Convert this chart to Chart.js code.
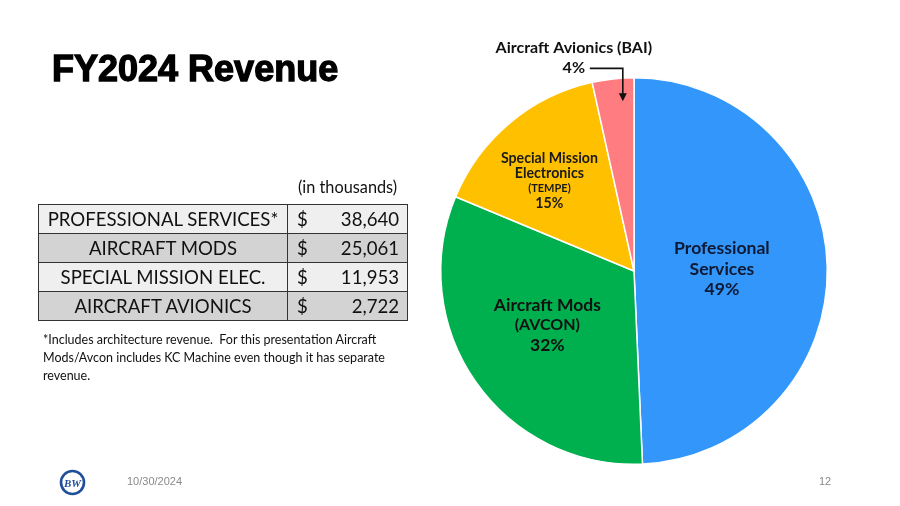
<!DOCTYPE html>
<html>
<head>
<meta charset="utf-8">
<script src="https://cdn.jsdelivr.net/npm/chart.js@4.4.0/dist/chart.umd.min.js"></script>
<style>
  html,body{margin:0;padding:0;background:#fff;}
  #wrap{position:relative;width:900px;height:506px;overflow:hidden;font-family:"Lato","Liberation Sans",sans-serif;}
  #c{position:absolute;left:0;top:0;}
  .abs{position:absolute;}
  #title{left:52px;top:48px;font-family:"Liberation Sans",Arial,sans-serif;font-weight:bold;font-size:36px;color:#000;-webkit-text-stroke:1.3px #000;letter-spacing:0px;white-space:nowrap;}
  #unit{left:298px;top:177px;font-size:16.3px;color:#111;font-family:"Lato",sans-serif;}
  #tbl{left:38px;top:204px;border-collapse:collapse;font-family:"Lato",sans-serif;font-size:18.6px;color:#111;}
  #tbl td{border:1px solid #333;height:28px;padding:0;line-height:28px;}
  #tbl td.lab{width:248px;text-align:center;}
  #tbl td.amt{width:119px;}
  #tbl td.amt span.d{float:left;margin-left:9px;}
  #tbl td.amt span.v{float:right;margin-right:8px;}
  #tbl tr.l td{background:#efefef;}
  #tbl tr.d td{background:#d3d3d3;}
  #note{left:43px;top:331px;width:350px;font-family:"Lato",sans-serif;font-size:12.5px;line-height:18px;color:#111;}
  #date{left:127px;top:475px;font-family:"Liberation Sans Narrow","Liberation Sans",sans-serif;font-size:11px;color:#8a8a8a;}
  #page{left:819px;top:475px;font-family:"Liberation Sans Narrow","Liberation Sans",sans-serif;font-size:11px;color:#8a8a8a;}
  #logo{left:59px;top:469px;}
</style>
</head>
<body>
<div id="wrap">
  <canvas id="c" width="900" height="506"></canvas>
  <div id="title" class="abs">FY2024 Revenue</div>
  <div id="unit" class="abs">(in thousands)</div>
  <table id="tbl" class="abs"></table>
  <div id="note" class="abs">*Includes architecture revenue.&nbsp; For this presentation Aircraft Mods/Avcon includes KC Machine even though it has separate revenue.</div>
  <svg id="logo" class="abs" width="27" height="27" viewBox="0 0 27 27">
    <circle cx="13.5" cy="13.5" r="11.5" fill="none" stroke="#1f4e9a" stroke-width="2.6"/>
    <text x="13.5" y="17.5" text-anchor="middle" font-family="Liberation Serif, serif" font-weight="bold" font-style="italic" font-size="11" fill="#1f4e9a">BW</text>
  </svg>
  <div id="date" class="abs">10/30/2024</div>
  <div id="page" class="abs">12</div>
</div>
<script>
// ---- data ----
const tableLabels = ["PROFESSIONAL SERVICES*", "AIRCRAFT MODS", "SPECIAL MISSION ELEC.", "AIRCRAFT AVIONICS"];
const tableAmounts = ["38,640", "25,061", "11,953", "2,722"];
const sliceNames = [["Professional", "Services"], ["Aircraft Mods", "(AVCON)"], ["Special Mission", "Electronics", "(TEMPE)"], ["Aircraft Avionics (BAI)"]];
const sliceValues = [38640, 25061, 11953, 2722];
const slicePercents = ["49%", "32%", "15%", "4%"];
const sliceColors = ["#3396fb", "#00b04f", "#ffc000", "#ff7c80"];

// ---- table ----
const tbl = document.getElementById('tbl');
tableLabels.forEach((lab, i) => {
  const tr = document.createElement('tr');
  tr.className = i % 2 === 0 ? 'l' : 'd';
  tr.innerHTML = '<td class="lab">' + lab + '</td><td class="amt"><span class="d">$</span><span class="v">' + tableAmounts[i] + '</span></td>';
  tbl.appendChild(tr);
});

// ---- label plugin ----
const labelPlugin = {
  id: 'sliceLabels',
  afterDatasetsDraw(chart) {
    const ctx = chart.ctx;
    const arcs = chart.getDatasetMeta(0).data;
    const fam = '"Lato", "Open Sans", sans-serif';
    const cfg = [
      {frac: 0.455, rot: 0, lines: [[17.6, 'bold'], [17.6, 'bold'], [17.6, 'bold']], lh: 20.5, color: '#0e1a33'},
      {frac: 0.529, rot: 2.9, lines: [[17.5, 'bold'], [16, 'bold'], [17.5, 'bold']], lh: 20, color: '#111'},
      {frac: 0.64, rot: -3.2, lines: [[14.2, 'bold'], [14.2, 'bold'], [11, 'bold'], [14.2, 'bold']], lh: 15, color: '#1a1a1a'}
    ];
    ctx.save();
    ctx.textAlign = 'center';
    ctx.textBaseline = 'middle';
    arcs.forEach((arc, i) => {
      const p = arc.getProps(['x', 'y', 'startAngle', 'endAngle', 'outerRadius']);
      if (i < 3) {
        const c = cfg[i];
        const a = (p.startAngle + p.endAngle) / 2 + c.rot * Math.PI / 180;
        const cx = p.x + Math.cos(a) * p.outerRadius * c.frac;
        const cy = p.y + Math.sin(a) * p.outerRadius * c.frac;
        const texts = sliceNames[i].concat([slicePercents[i]]);
        const n = texts.length;
        texts.forEach((t, k) => {
          const [sz, w] = c.lines[k];
          ctx.font = w + ' ' + sz + 'px ' + fam;
          ctx.fillStyle = c.color;
          ctx.fillText(t, cx, cy + (k - (n - 1) / 2) * c.lh);
        });
      } else {
        // outside label with arrow
        const a = p.startAngle + 0.7 * (p.endAngle - p.startAngle);
        const tx = p.x + Math.cos(a) * p.outerRadius * 0.885;
        const ty = p.y + Math.sin(a) * p.outerRadius * 0.885;
        const lineY = ty - 32;
        const textX = tx - 50;
        ctx.fillStyle = '#111';
        ctx.font = 'bold 16px ' + fam;
        ctx.fillText(sliceNames[i][0], textX + 1, lineY - 20);
        ctx.fillText(slicePercents[i], textX + 1, lineY);
        ctx.strokeStyle = '#111';
        ctx.lineWidth = 1.6;
        ctx.beginPath();
        ctx.moveTo(textX + 17, lineY);
        ctx.lineTo(tx, lineY);
        ctx.lineTo(tx, ty - 6);
        ctx.stroke();
        ctx.beginPath();
        ctx.moveTo(tx - 4, ty - 7);
        ctx.lineTo(tx + 4, ty - 7);
        ctx.lineTo(tx, ty + 1);
        ctx.closePath();
        ctx.fillStyle = '#111';
        ctx.fill();
      }
    });
    ctx.restore();
  }
};

new Chart(document.getElementById('c'), {
  type: 'pie',
  data: {
    labels: sliceNames.map(n => n.join(' ')),
    datasets: [{
      data: sliceValues,
      backgroundColor: sliceColors,
      borderColor: '#ffffff',
      borderWidth: 1.5
    }]
  },
  options: {
    responsive: false,
    animation: false,
    events: [],
    layout: {padding: {left: 440, right: 72, top: 77, bottom: 41}},
    plugins: {legend: {display: false}, tooltip: {enabled: false}}
  },
  plugins: [labelPlugin]
});
</script>
</body>
</html>
